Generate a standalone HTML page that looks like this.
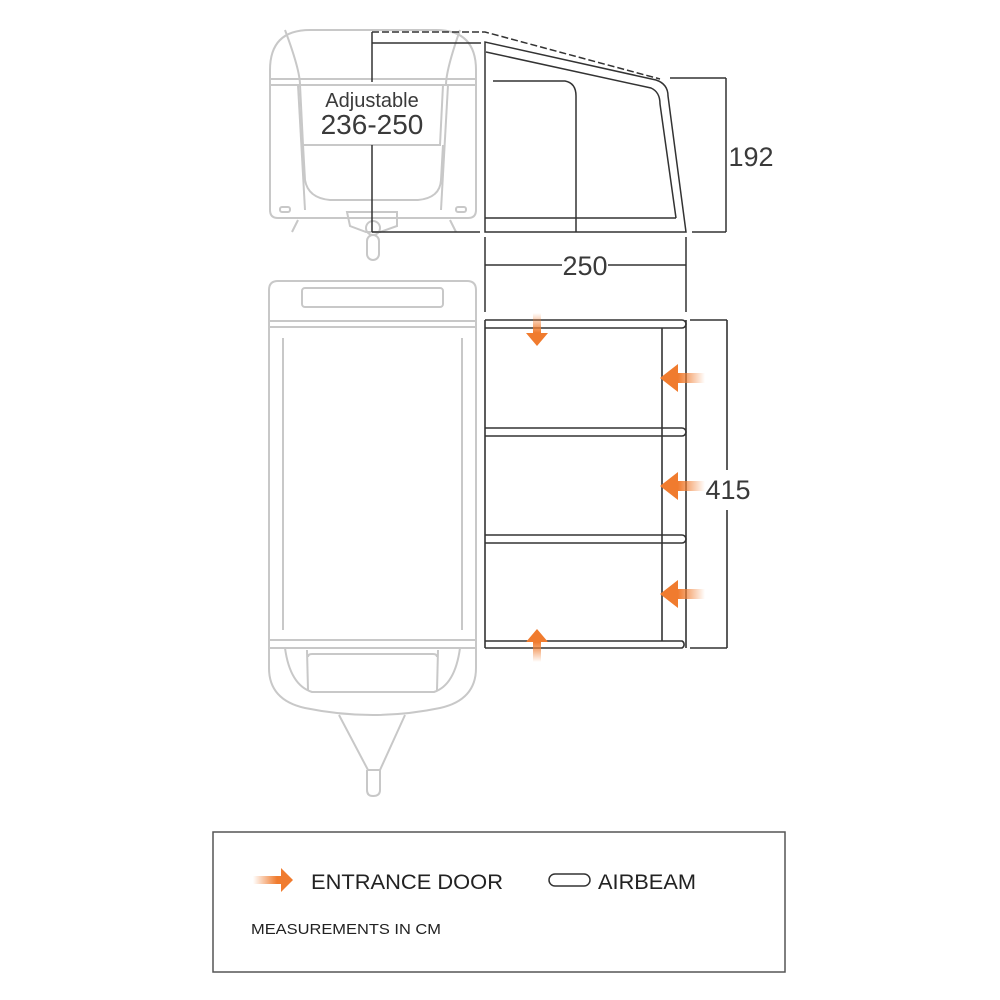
<!DOCTYPE html>
<html><head><style>html,body{margin:0;padding:0;background:#fff}svg{display:block}text{font-family:"Liberation Sans",sans-serif}</style></head>
<body>
<svg width="1000" height="1000" viewBox="0 0 1000 1000" xmlns="http://www.w3.org/2000/svg">
<defs>
<linearGradient id="gl" x1="1" y1="0" x2="0" y2="0"><stop offset="0" stop-color="#f07b2e" stop-opacity="0"/><stop offset="0.6" stop-color="#f07b2e"/><stop offset="1" stop-color="#f07b2e"/></linearGradient>
<linearGradient id="gr" x1="0" y1="0" x2="1" y2="0"><stop offset="0" stop-color="#f07b2e" stop-opacity="0"/><stop offset="0.6" stop-color="#f07b2e"/><stop offset="1" stop-color="#f07b2e"/></linearGradient>
<linearGradient id="gd" x1="0" y1="0" x2="0" y2="1"><stop offset="0" stop-color="#f07b2e" stop-opacity="0"/><stop offset="0.6" stop-color="#f07b2e"/><stop offset="1" stop-color="#f07b2e"/></linearGradient>
<linearGradient id="gu" x1="0" y1="1" x2="0" y2="0"><stop offset="0" stop-color="#f07b2e" stop-opacity="0"/><stop offset="0.6" stop-color="#f07b2e"/><stop offset="1" stop-color="#f07b2e"/></linearGradient>
</defs>
<g fill="none" stroke="#c8c8c8" stroke-width="2">
<path d="M270,210 L270,70 Q270,30 310,30 L436,30 Q476,30 476,70 L476,210 Q476,218 468,218 L278,218 Q270,218 270,210 Z"/>
<line x1="270" y1="79" x2="476" y2="79"/>
<line x1="270" y1="85" x2="476" y2="85"/>
<path d="M298,85 L305,210"/><path d="M448,85 L441,210"/>
<path d="M300,85 L443,85 L440,145 L303,145 Z"/>
<path d="M303,145 L305,180 Q308,198 330,200 L418,200 Q440,198 441,180 L443,145"/>
<path d="M285,30 Q300,70 300,85"/><path d="M460,30 Q446,70 446,85"/>
<rect x="280" y="207" width="10" height="5" rx="2"/><rect x="456" y="207" width="10" height="5" rx="2"/>
<path d="M298,220 L292,232"/><path d="M450,220 L456,232"/>
<path d="M347,212 L397,212 L397,226 L380,232 L366,232 L350,226 Z"/>
<circle cx="373" cy="228" r="7"/>
<rect x="367" y="235" width="12" height="25" rx="6"/>
</g>
<g fill="none" stroke="#333" stroke-width="1.5">
<line x1="372" y1="43" x2="481" y2="43"/>
<line x1="372" y1="32" x2="372" y2="82"/>
<line x1="372" y1="145" x2="372" y2="232"/>
<line x1="372" y1="232" x2="480" y2="232"/>
<path d="M372,32 L485,32 L660,79" stroke-dasharray="7,3"/>
<path d="M485,232 L485,42 L656,80 Q668,84 668,96 L686,232 Z"/>
<path d="M486,52 L651,88 Q660,92 660,104 L676,218"/>
<line x1="485" y1="218" x2="676" y2="218"/>
<path d="M493,81 L565,81 Q576,83 576,96 L576,232"/>
<line x1="670" y1="78" x2="726" y2="78"/>
<line x1="692" y1="232" x2="726" y2="232"/>
<line x1="726" y1="78" x2="726" y2="232"/>
<line x1="485" y1="237" x2="485" y2="312"/>
<line x1="686" y1="237" x2="686" y2="312"/>
<line x1="485" y1="265" x2="562" y2="265"/>
<line x1="608" y1="265" x2="686" y2="265"/>
</g>
<text x="372" y="107" font-size="20" text-anchor="middle" fill="#3a3a3a">Adjustable</text>
<text x="372" y="134" font-size="28" text-anchor="middle" fill="#3a3a3a">236-250</text>
<text x="751" y="166" font-size="27" text-anchor="middle" fill="#3a3a3a">192</text>
<text x="585" y="275" font-size="27" text-anchor="middle" fill="#3a3a3a">250</text>
<g fill="none" stroke="#c8c8c8" stroke-width="2">
<path d="M269,290 Q269,281 278,281 L467,281 Q476,281 476,290 L476,668 Q476,700 440,708 Q373,722 305,708 Q269,700 269,668 Z"/>
<rect x="302" y="288" width="141" height="19" rx="3"/>
<line x1="269" y1="321" x2="476" y2="321"/>
<line x1="269" y1="327" x2="476" y2="327"/>
<line x1="283" y1="338" x2="283" y2="630"/>
<line x1="462" y1="338" x2="462" y2="630"/>
<line x1="270" y1="640" x2="476" y2="640"/>
<line x1="270" y1="648" x2="476" y2="648"/>
<path d="M285,648 Q290,685 312,692 L434,692 Q455,685 460,648"/>
<path d="M307,650 L308,690"/><path d="M438,650 L437,690"/>
<path d="M308,657 Q308,654 312,654 L433,654 Q437,654 437,657"/>
<path d="M339,715 L368,770 L380,770 L405,715"/>
<path d="M367,770 L367,790 Q367,796 373,796 Q380,796 380,790 L380,770"/>
</g>
<g fill="none" stroke="#333" stroke-width="1.6">
<line x1="485" y1="320" x2="485" y2="648"/>
<line x1="686" y1="320" x2="686" y2="648"/>
<line x1="662" y1="328" x2="662" y2="641"/>
<path d="M485,320 L682,320 A4,4 0 0 1 682,328 L485,328"/>
<path d="M485,428 L682,428 A4,4 0 0 1 682,436 L485,436"/>
<path d="M485,535 L682,535 A4,4 0 0 1 682,543 L485,543"/>
<path d="M485,641 L682,641 A4,4 0 0 1 682,648 L485,648"/>
<line x1="690" y1="320" x2="727" y2="320"/>
<line x1="690" y1="648" x2="727" y2="648"/>
<line x1="727" y1="320" x2="727" y2="470"/>
<line x1="727" y1="510" x2="727" y2="648"/>
</g>
<text x="728" y="499" font-size="27" text-anchor="middle" fill="#3a3a3a">415</text>
<g>
<path d="M533,313 L541,313 L541,333 L548,333 L537,346 L526,333 L533,333 Z" fill="url(#gd)"/>
<path d="M533,662 L541,662 L541,642 L548,642 L537,629 L526,642 L533,642 Z" fill="url(#gu)"/>
<path d="M705,373 L678,373 L678,364 L660,378 L678,392 L678,383 L705,383 Z" fill="url(#gl)"/>
<path d="M705,481 L678,481 L678,472 L660,486 L678,500 L678,491 L705,491 Z" fill="url(#gl)"/>
<path d="M705,589 L678,589 L678,580 L660,594 L678,608 L678,599 L705,599 Z" fill="url(#gl)"/>
</g>
<rect x="213" y="832" width="572" height="140" fill="none" stroke="#555" stroke-width="1.5"/>
<path d="M253,876 L281,876 L281,868 L293,880 L281,892 L281,884 L253,884 Z" fill="url(#gr)"/>
<text x="311" y="889" font-size="21" fill="#222" textLength="192" lengthAdjust="spacingAndGlyphs">ENTRANCE DOOR</text>
<rect x="549" y="874" width="41" height="12" rx="6" fill="none" stroke="#333" stroke-width="1.5"/>
<text x="598" y="889" font-size="21" fill="#222" textLength="98" lengthAdjust="spacingAndGlyphs">AIRBEAM</text>
<text x="251" y="934" font-size="15" fill="#222" textLength="190" lengthAdjust="spacingAndGlyphs">MEASUREMENTS IN CM</text>
</svg>
</body></html>
